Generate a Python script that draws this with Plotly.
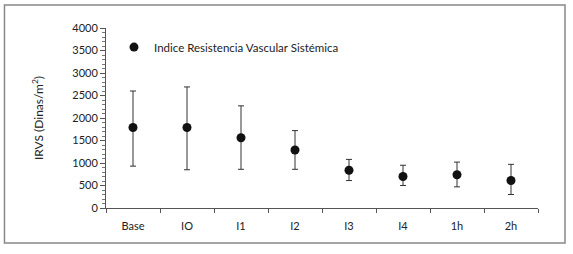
import plotly.graph_objects as go

categories = ["Base", "IO", "I1", "I2", "I3", "I4", "1h", "2h"]
irvs_mean = [1790, 1790, 1560, 1290, 840, 700, 740, 610]
irvs_upper = [2600, 2690, 2270, 1720, 1080, 950, 1020, 970]
irvs_lower = [930, 850, 860, 860, 610, 500, 470, 300]

err_plus = [u - m for u, m in zip(irvs_upper, irvs_mean)]
err_minus = [m - l for m, l in zip(irvs_mean, irvs_lower)]

font_family = "Lato, 'Open Sans', sans-serif"
fig = go.Figure()
fig.add_trace(go.Scatter(
    x=categories, y=irvs_mean, mode="markers",
    name="Indice Resistencia Vascular Sistémica",
    marker=dict(color="#111111", size=9),
    error_y=dict(type="data", symmetric=False, array=err_plus, arrayminus=err_minus,
                 color="#333333", thickness=1, width=3),
))

fig.update_layout(
    width=573, height=254,
    margin=dict(l=106, r=35, t=28, b=46, autoexpand=False),
    paper_bgcolor="white", plot_bgcolor="white",
    font=dict(family=font_family, size=11, color="#222222"),
    showlegend=True,
    legend=dict(x=0.0185, y=0.894, xanchor="left", yanchor="middle",
                bgcolor="rgba(0,0,0,0)", font=dict(size=11.5)),
    xaxis=dict(type="category", range=[-0.5, 7.5], showline=True, linecolor="#555555",
               linewidth=1, showgrid=False, ticks="outside", ticklen=4, tickcolor="#555555",
               tickson="boundaries", zeroline=False, ticklabelstandoff=8),
    yaxis=dict(range=[0, 4000], dtick=500, showline=True, linecolor="#555555", linewidth=1,
               showgrid=False, ticks="outside", ticklen=5, tickcolor="#555555", zeroline=False,
               minor=dict(dtick=100, ticks="outside", ticklen=3, tickcolor="#777777"),
               title=dict(text="IRVS (Dinas/m<sup>2</sup>)", standoff=26, font=dict(size=12))),
    shapes=[dict(type="rect", xref="paper", yref="paper", x0=-0.235, x1=1.0625,
                 y0=-0.194, y1=1.128, line=dict(color="#888888", width=1.5))],
)

fig.write_html("out.html", config={"displayModeBar": False},
               post_script="document.body.style.margin='0';")
